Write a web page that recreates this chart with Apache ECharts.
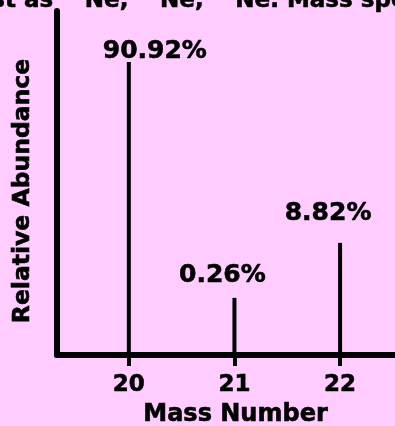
<!DOCTYPE html>
<html>
<head>
<meta charset="utf-8">
<title>Neon isotopes mass spectrum</title>
<script src="https://cdn.jsdelivr.net/npm/echarts@6/dist/echarts.min.js"></script>
<style>
  html, body { margin: 0; padding: 0; background: #ffccff; }
  #chart { width: 395px; height: 426px; }
</style>
</head>
<body>
<div id="chart"></div>
<script>
// Data (bar heights are schematic, in % of the axis height)
const massNumbers = [20, 21, 22];
const barHeights = [85.2, 16.6, 32.6];
const abundanceLabels = ['90.92%', '0.26%', '8.82%'];
const tickValues = [20, 21, 22];

// label nudges, one per peak
const labelOffsets = [[26, 2], [-12, -10], [-12, -17]];

const font = 'DejaVu Sans';
// slight outline so the bold text reads as heavy as the original
const heavy = { textBorderColor: '#000', textBorderWidth: 0.6 };
const chart = echarts.init(document.getElementById('chart'));

chart.setOption({
  backgroundColor: '#ffccff',
  animation: false,
  grid: { left: 57, right: 0, top: 11, bottom: 71, outerBoundsMode: 'none' },
  // title line, mostly cut off by the top edge in the original
  graphic: [{
    type: 'text',
    left: -9,
    top: -20,
    style: {
      text: '{t|st as }{s|20}{t|Ne, }{s|21}{t|Ne, }{s|22}{t|Ne. Mass spectrum}',
      rich: {
        t: { font: 'bold 23px "DejaVu Sans"', fill: '#000', lineHeight: 32, verticalAlign: 'bottom' },
        s: { font: 'bold 17px "DejaVu Sans"', fill: '#000', lineHeight: 17, verticalAlign: 'top' }
      },
      stroke: '#000',
      lineWidth: 0.6
    }
  }],
  xAxis: {
    type: 'value',
    min: 19.32,
    max: 22.52,
    name: 'Mass Number',
    nameLocation: 'middle',
    nameGap: 48,
    nameTextStyle: { color: '#000', fontFamily: font, fontWeight: 'bold', fontSize: 24, padding: [0, 0, 0, 19], ...heavy },
    axisLine: { lineStyle: { color: '#000', width: 6 } },
    axisTick: { show: true, customValues: tickValues, length: 11, lineStyle: { color: '#000', width: 4 } },
    axisLabel: {
      customValues: tickValues,
      margin: 19,
      color: '#000',
      fontFamily: font,
      fontWeight: 'bold',
      fontSize: 23,
      ...heavy
    },
    splitLine: { show: false }
  },
  yAxis: {
    type: 'value',
    min: 0,
    max: 100,
    name: 'Relative Abundance',
    nameLocation: 'middle',
    nameGap: 22,
    nameTextStyle: { color: '#000', fontFamily: font, fontWeight: 'bold', fontSize: 23.5, padding: [0, 16, 0, 0], ...heavy },
    axisLine: { show: true, lineStyle: { color: '#000', width: 6 } },
    axisTick: { show: false },
    axisLabel: { show: false },
    splitLine: { show: false }
  },
  series: [{
    type: 'bar',
    barWidth: 4,
    itemStyle: { color: '#000' },
    data: massNumbers.map((m, i) => ({
      value: [m, barHeights[i]],
      label: {
        show: true,
        position: 'top',
        distance: 0,
        offset: labelOffsets[i],
        formatter: abundanceLabels[i],
        color: '#000',
        fontFamily: font,
        fontWeight: 'bold',
        fontSize: 25,
        ...heavy
      }
    }))
  }]
});
</script>
</body>
</html>
